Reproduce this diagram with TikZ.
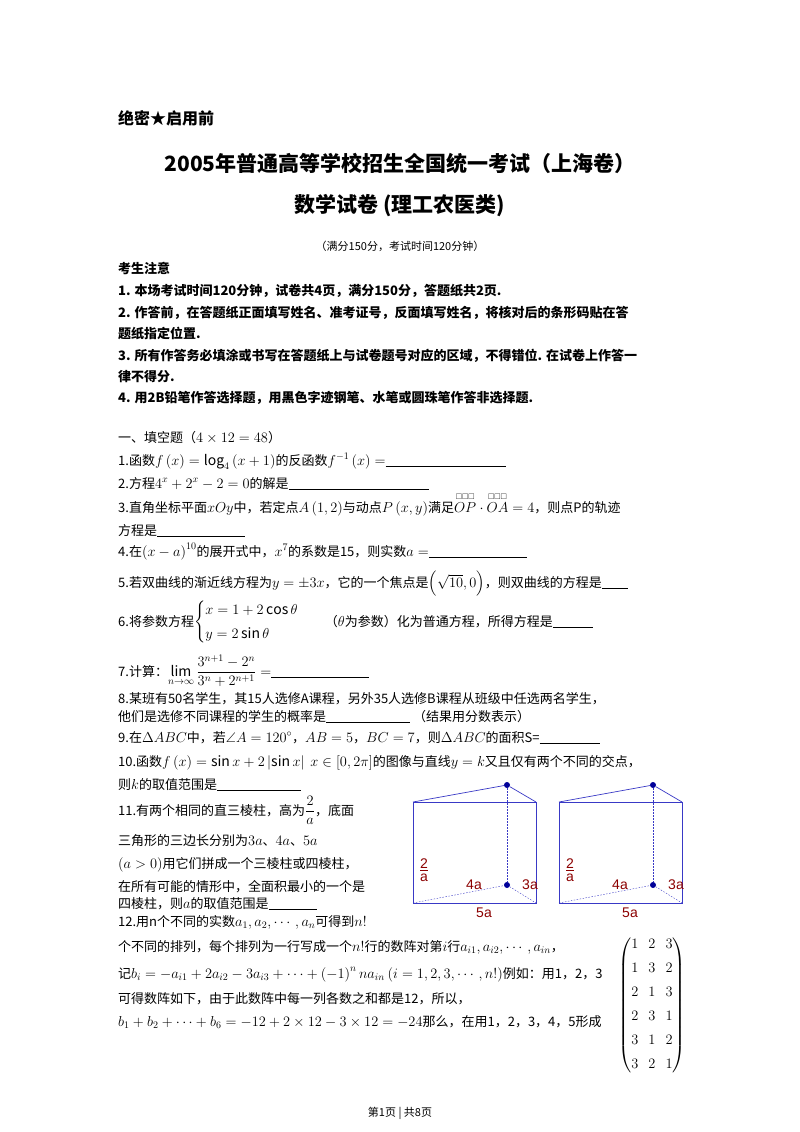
\documentclass[tikz,border=0pt]{standalone}
\usepackage{amsmath,amssymb}
\usepackage{fontspec}
\setmainfont{Noto Sans CJK SC}
\newfontfamily\arialf{Liberation Sans}
\DeclareMathSizes{13}{14}{10}{8}
\DeclareMathSizes{14}{15}{11}{9}
\newcommand{\blank}[1]{\rule[-2pt]{#1pt}{0.6pt}}
\begin{document}
\begin{tikzpicture}[x=1pt,y=-1pt,
  tx/.style={anchor=base west,inner sep=0pt,font=\fontsize{13}{15}\selectfont},
  bx/.style={tx,font=\fontsize{13}{15}\selectfont\bfseries},
  fig/.style={draw=blue!55!gray,line width=0.7pt},
  figd/.style={draw=blue!55!gray,dashed,line width=0.4pt,dash pattern=on 1.5pt off 1.5pt},
  dot/.style={circle,fill=blue!60!black,inner sep=0pt,minimum size=6pt},
  lab/.style={text=red!55!black,font=\arialf\fontsize{14}{15}\selectfont,inner sep=0pt}]
\useasboundingbox (0,0) rectangle (800,1132);
\fill[white] (0,0) rectangle (800,1132);
\node[bx,font=\fontsize{16}{18}\selectfont\bfseries] (h0) at (118,124) {绝密★启用前};
\node[anchor=base,font=\fontsize{21}{24}\selectfont\bfseries] (t1) at (400,171) {2005年普通高等学校招生全国统一考试（上海卷）};
\node[anchor=base,font=\fontsize{21}{24}\selectfont\bfseries] (t2) at (400,212) {数学试卷 (理工农医类)};
\node[anchor=base,font=\fontsize{11}{13}\selectfont] (t3) at (400,250) {（满分150分，考试时间120分钟）};
\node[bx] (n0) at (118,273) {考生注意};
\node[bx] (n1) at (118,295) {1. 本场考试时间120分钟，试卷共4页，满分150分，答题纸共2页.};
\node[bx] (n2) at (118,317) {2. 作答前，在答题纸正面填写姓名、准考证号，反面填写姓名，将核对后的条形码贴在答};
\node[bx] (n2b) at (118,338) {题纸指定位置.};
\node[bx] (n3) at (118,360) {3. 所有作答务必填涂或书写在答题纸上与试卷题号对应的区域，不得错位. 在试卷上作答一};
\node[bx] (n3b) at (118,381) {律不得分.};
\node[bx] (n4) at (118,402) {4. 用2B铅笔作答选择题，用黑色字迹钢笔、水笔或圆珠笔作答非选择题.};
\node[tx] (s0) at (118,442) {一、填空题（$4\times12=48$）};
\node[tx] (q1) at (118,465) {1.函数$f\left(x\right)=\log_4\left(x+1\right)$的反函数$f^{-1}\left(x\right)=$\blank{120}};
\node[tx] (q2) at (118,488) {2.方程$4^x+2^x-2=0$的解是\blank{140}};
\node[tx] (q3) at (118,512) {3.直角坐标平面$xOy$中，若定点$A\left(1,2\right)$与动点$P\left(x,y\right)$满足$\overset{\scriptscriptstyle\square\square\square}{OP}\cdot\overset{\scriptscriptstyle\square\square\square}{OA}=4$，则点P的轨迹};
\node[tx] (q3b) at (118,535) {方程是\blank{88}};
\node[tx] (q4) at (118,556) {4.在$\left(x-a\right)^{10}$的展开式中，$x^7$的系数是15，则实数$a=$\blank{98}};
\node[tx] (q5) at (118,587) {5.若双曲线的渐近线方程为$y=\pm3x$，它的一个焦点是$\Big(\sqrt{10},0\Big)$，则双曲线的方程是\blank{26}};
\node[tx] (q6) at (118,626) {6.将参数方程$\begin{cases}x=1+2\cos\theta\\[6pt] y=2\sin\theta\end{cases}$\quad（$\theta$为参数）化为普通方程，所得方程是\blank{40}};
\node[tx] (q7) at (118,676) {7.计算：$\displaystyle\lim_{n\to\infty}\frac{3^{n+1}-2^n}{3^n+2^{n+1}}=$\blank{98}};
\node[tx] (q8) at (118,703) {8.某班有50名学生，其15人选修A课程，另外35人选修B课程从班级中任选两名学生，};
\node[tx] (q8b) at (118,721) {他们是选修不同课程的学生的概率是\blank{84}\ （结果用分数表示）};
\node[tx] (q9) at (118,742) {9.在$\Delta ABC$中，若$\angle A=120^\circ$，$AB=5$，$BC=7$，则$\Delta ABC$的面积S=\blank{60}};
\node[tx] (q10) at (118,766) {10.函数$f\left(x\right)=\sin x+2\left|\sin x\right|$\ \ $x\in\left[0,2\pi\right]$的图像与直线$y=k$又且仅有两个不同的交点，};
\node[tx] (q10b) at (118,789) {则$k$的取值范围是\blank{84}};
\node[tx] (q11) at (118,815) {11.有两个相同的直三棱柱，高为$\dfrac{2}{a}$，底面};
\node[tx] (q11b) at (118,845) {三角形的三边长分别为$3a$、$4a$、$5a$};
\node[tx] (q11c) at (118,868) {$\left(a>0\right)$用它们拼成一个三棱柱或四棱柱，};
\node[tx] (q11d) at (118,891) {在所有可能的情形中，全面积最小的一个是};
\node[tx] (q11e) at (118,908) {四棱柱，则$a$的取值范围是\blank{48}};
\node[tx] (q12) at (118,926) {12.用n个不同的实数$a_1,a_2,\cdots,a_n$可得到$n!$};
\node[tx] (q12b) at (118,951) {个不同的排列，每个排列为一行写成一个$n!$行的数阵对第$i$行$a_{i1},a_{i2},\cdots,a_{in}$，};
\node[tx] (q12c) at (118,978) {记$b_i=-a_{i1}+2a_{i2}-3a_{i3}+\cdots+\left(-1\right)^n na_{in}$ $\left(i=1,2,3,\cdots,n!\right)$例如：用1，2，3};
\node[tx] (q12d) at (118,1003) {可得数阵如下，由于此数阵中每一列各数之和都是12，所以，};
\node[tx] (q12e) at (118,1026) {$b_1+b_2+\cdots+b_6=-12+2\times12-3\times12=-24$那么，在用1，2，3，4，5形成};
\node[font=\fontsize{14}{17}\selectfont,inner sep=0pt] (mat) at (652,1005) {$\begin{pmatrix}1&2&3\\[7pt]1&3&2\\[7pt]2&1&3\\[7pt]2&3&1\\[7pt]3&1&2\\[7pt]3&2&1\end{pmatrix}$};
\node[anchor=base,font=\fontsize{11}{13}\selectfont] (ft) at (400,1116) {第1页 | 共8页};
\foreach \dx/\nm in {0/a,146/b}{
  \begin{scope}[xshift=\dx]
  \coordinate (\nm tl) at (413,802); \coordinate (\nm tr) at (536,802);
  \coordinate (\nm bl) at (413,903); \coordinate (\nm br) at (536,903);
  \node[dot] (\nm tv) at (507,785) {};
  \node[dot] (\nm bv) at (507,885) {};
  \draw[fig] (\nm tl) rectangle (\nm br);
  \draw[fig] (\nm tl) -- (\nm tv) -- (\nm tr);
  \draw[figd] (\nm tv) -- (\nm bv);
  \draw[figd] (\nm bl) -- (\nm bv) -- (\nm br);
  \node[lab,anchor=center,align=center] (\nm h) at (424,870) {\underline{2}\\[-2pt]a};
  \node[lab] (\nm 4) at (474,885) {4a};
  \node[lab] (\nm 3) at (530,885) {3a};
  \node[lab] (\nm 5) at (484,913) {5a};
  \end{scope}}
\end{tikzpicture}
\end{document}
